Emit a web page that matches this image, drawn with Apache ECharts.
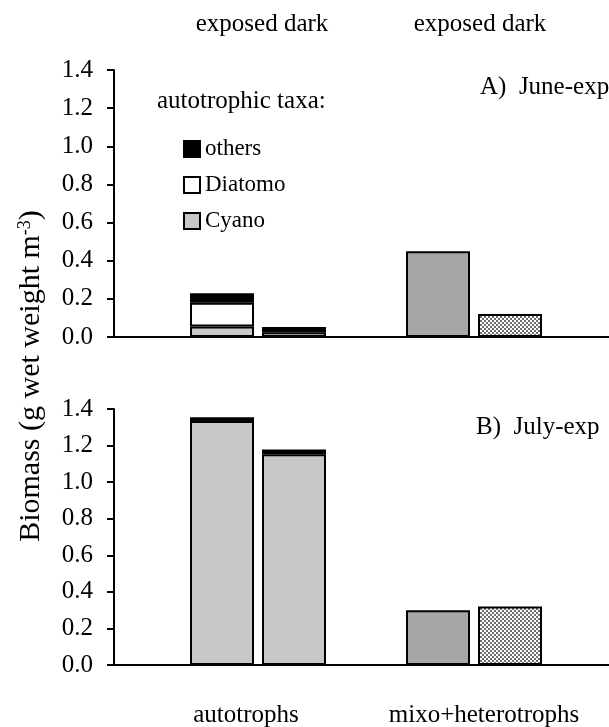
<!DOCTYPE html>
<html><head><meta charset="utf-8">
<script src="https://cdn.jsdelivr.net/npm/echarts@6/dist/echarts.min.js"></script>
<style>html,body{margin:0;padding:0;background:#fff}#c{width:609px;height:727px}</style>
</head><body><div id="c"></div><script>
// ---- data ----
const slots = ['', 'auto-exposed', 'auto-dark', '', 'mixo-exposed', 'mixo-dark', ''];
const autoSlots = [1, 2];
const mixoSlots = [4, 5];
const groupLabels = ['autotrophs', 'mixo+heterotrophs'];
const topLabels = ['exposed dark', 'exposed dark'];
const groupCenters = [2, 5];
const taxa = ['others', 'Diatomo', 'Cyano'];
const panelLabels = ['A)  June-exp', 'B)  July-exp'];
const legendTitle = 'autotrophic taxa:';
const yTicks = [0, 0.2, 0.4, 0.6, 0.8, 1.0, 1.2, 1.4];

const juneCyano   = [0.055, 0.025];
const juneDiatomo = [0.125, 0];
const juneOthers  = [0.050, 0.027];
const juneMixo    = [0.45, 0.12];

const julyCyano   = [1.335, 1.153];
const julyDiatomo = [0, 0];
const julyOthers  = [0.020, 0.025];
const julyMixo    = [0.30, 0.32];

// ---- styles ----
const FONT = '"Liberation Serif", "Times New Roman", serif';
const pc = document.createElement('canvas'); pc.width = 4; pc.height = 4;
const g = pc.getContext('2d');
g.fillStyle = '#ffffff'; g.fillRect(0, 0, 4, 4);
g.fillStyle = '#6e6e6e'; g.fillRect(0, 0, 2, 2); g.fillRect(2, 2, 2, 2);
const hatch = { image: pc, repeat: 'repeat' };
const colors = { Cyano: '#c8c8c8', Diatomo: '#ffffff', others: '#000000', mixoExp: '#a6a6a6' };

function place(vals, idx) {
  const a = slots.map(() => null);
  idx.forEach((s, i) => { a[s] = vals[i] ? vals[i] : null; });
  return a;
}
function barSeries(name, data, grid, color) {
  return {
    name: name, type: 'bar', stack: 'g' + grid, xAxisIndex: grid, yAxisIndex: grid,
    data: data, barWidth: 64,
    itemStyle: { color: color, borderColor: '#000', borderWidth: 2 }
  };
}
function panel(grid, cy, di, ot, mx) {
  return [
    barSeries('Cyano', place(cy, autoSlots), grid, colors.Cyano),
    barSeries('Diatomo', place(di, autoSlots), grid, colors.Diatomo),
    barSeries('others', place(ot, autoSlots), grid, colors.others),
    barSeries('mixo exposed', place([mx[0]], [mixoSlots[0]]), grid, colors.mixoExp),
    barSeries('mixo dark', place([mx[1]], [mixoSlots[1]]), grid, hatch)
  ];
}
function catAxis(grid) {
  return { gridIndex: grid, type: 'category', data: slots,
    axisLine: { lineStyle: { color: '#000', width: 2 } },
    axisTick: { show: false }, axisLabel: { show: false } };
}
// pads: [left, right] padding per label for fine typographic placement
function labelAxis(grid, pos, labels, margin, pads) {
  const rich = {};
  pads.forEach((p, i) => { rich['t' + i] = { fontSize: 25, fontFamily: FONT, color: '#000', padding: [0, p[1], 0, p[0]] }; });
  return { gridIndex: grid, type: 'value', position: pos, min: 0, max: slots.length, interval: 1,
    axisLine: { show: false }, axisTick: { show: false }, splitLine: { show: false },
    axisLabel: { margin: margin, fontSize: 25, fontFamily: FONT, color: '#000',
      showMinLabel: true, showMaxLabel: true, rich: rich,
      formatter: v => { const i = groupCenters.indexOf(v); return i >= 0 ? '{t' + i + '|' + labels[i] + '}' : ''; } } };
}
function valAxis(grid) {
  return { gridIndex: grid, type: 'value', min: yTicks[0], max: yTicks[yTicks.length - 1], interval: 0.2,
    axisLine: { show: true, lineStyle: { color: '#000', width: 2 } },
    axisTick: { show: true, length: 7, lineStyle: { color: '#000', width: 2 } },
    splitLine: { show: false },
    axisLabel: { margin: 21, fontSize: 25, fontFamily: FONT, color: '#000', formatter: v => v.toFixed(1) } };
}

const chart = echarts.init(document.getElementById('c'), null, { renderer: 'canvas' });
chart.setOption({
  animation: false,
  backgroundColor: '#fff',
  grid: [
    { left: 114, top: 70, width: 504, height: 267, containLabel: false, outerBoundsMode: 'none' },
    { left: 114, top: 409, width: 504, height: 256, containLabel: false, outerBoundsMode: 'none' }
  ],
  xAxis: [catAxis(0), catAxis(1),
    labelAxis(0, 'top', topLabels, 33, [[8, 0], [12, 0]]),
    labelAxis(1, 'bottom', groupLabels, 38, [[0, 24], [20, 0]])],
  yAxis: [valAxis(0), valAxis(1)],
  title: [
    { text: legendTitle, left: 157, top: 89, padding: 0, textStyle: { fontSize: 25, fontWeight: 'normal', fontFamily: FONT, color: '#000', lineHeight: 25 } },
    { text: panelLabels[0], left: 480, top: 75, padding: 0, textStyle: { fontSize: 25, fontWeight: 'normal', fontFamily: FONT, color: '#000', lineHeight: 25 } },
    { text: panelLabels[1], left: 476, top: 415, padding: 0, textStyle: { fontSize: 25, fontWeight: 'normal', fontFamily: FONT, color: '#000', lineHeight: 25 } }
  ],
  legend: {
    data: taxa, orient: 'vertical', left: 183, top: 137, padding: 0,
    itemWidth: 16, itemHeight: 16, itemGap: 12, icon: 'rect', selectedMode: false,
    textStyle: { fontSize: 23, fontFamily: FONT, color: '#000', lineHeight: 24 }
  },
  graphic: [{
    type: 'text', x: 31, y: 376, rotation: Math.PI / 2,
    style: {
      text: '{a|Biomass (g wet weight m}{s|-3}{a|)}',
      align: 'center', verticalAlign: 'middle', fill: '#000',
      rich: {
        a: { fontSize: 30, fontFamily: FONT, fill: '#000' },
        s: { fontSize: 18, fontFamily: FONT, fill: '#000', padding: [0, 0, 12, 0] }
      }
    }
  }],
  series: [].concat(
    panel(0, juneCyano, juneDiatomo, juneOthers, juneMixo),
    panel(1, julyCyano, julyDiatomo, julyOthers, julyMixo)
  )
});
</script></body></html>
